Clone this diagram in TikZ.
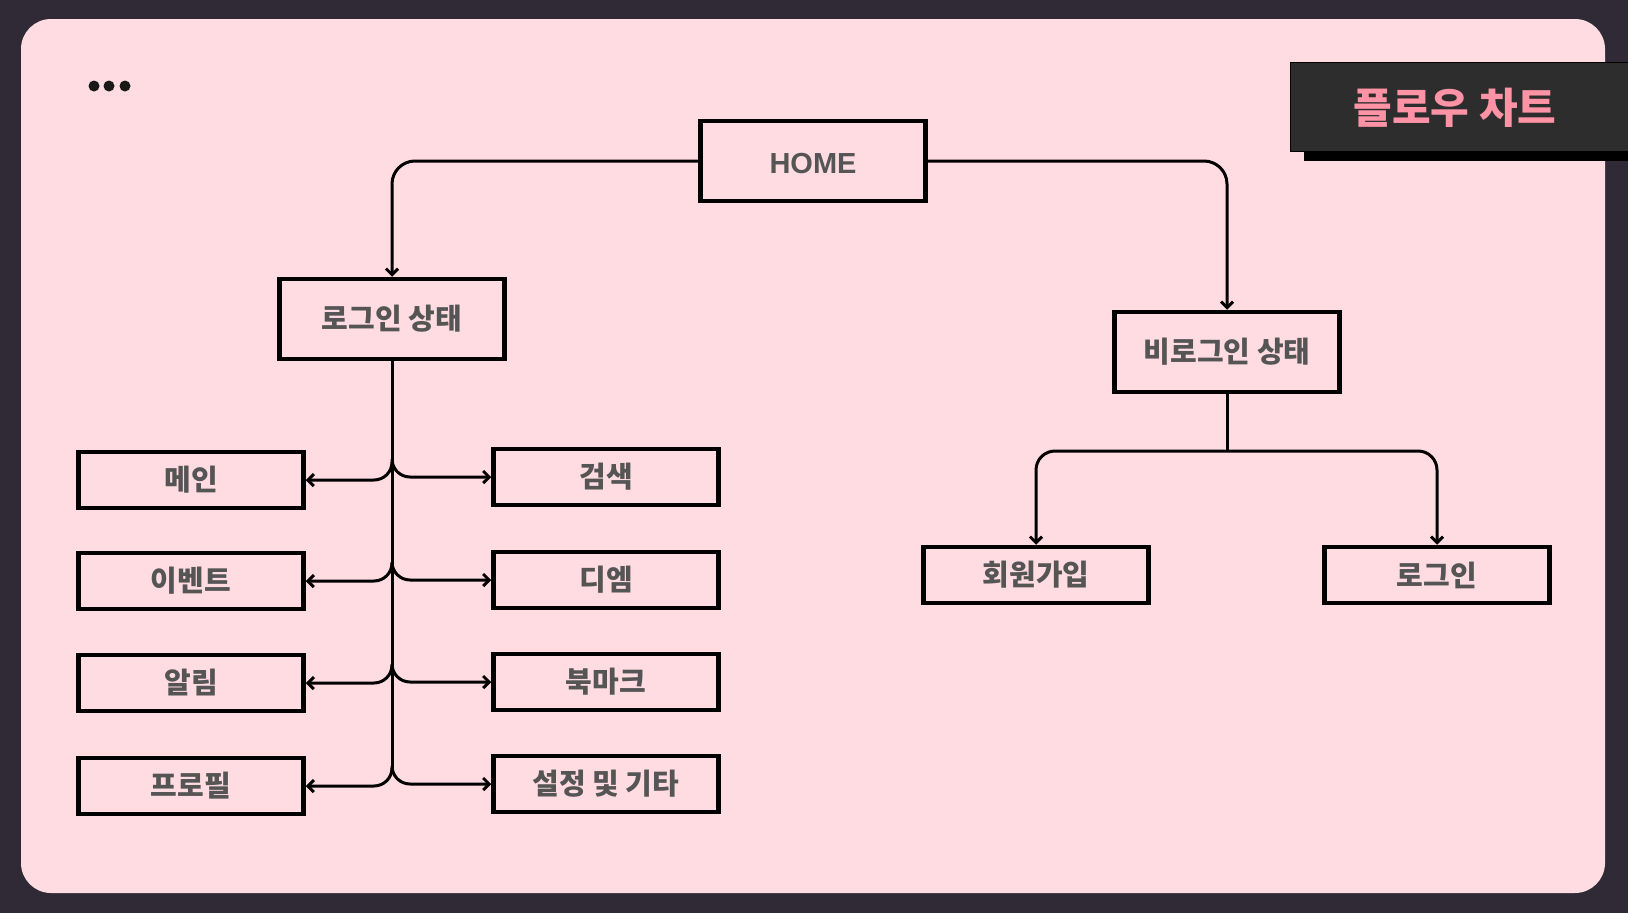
\documentclass[tikz,border=0pt]{standalone}
\usepackage{fontspec}
\setmainfont{Noto Sans CJK KR}
\newfontfamily\latinfont{Liberation Sans}
\usetikzlibrary{arrows.meta,calc}
\definecolor{bgdark}{HTML}{2F2A35}
\definecolor{bgpink}{HTML}{FFDCE2}
\definecolor{titlebg}{HTML}{2D2D2D}
\definecolor{titlefg}{HTML}{FF93A6}
\definecolor{labelfg}{HTML}{555555}

\begin{document}
\begin{tikzpicture}
[   x=1pt,y=-1pt,
    box/.style={draw=black,line width=4.5pt,minimum width=225pt,minimum height=#1,
        text=labelfg,font=\fontsize{29}{32}\selectfont\bfseries},
    box/.default=56pt,
    conn/.style={line width=3pt,>={Straight Barb[length=6pt,width=12pt]}},
]
    \fill[bgdark] (0,0) rectangle (1628,913);
    \useasboundingbox (0,0) rectangle (1628,913);
    \fill[bgpink,rounded corners=30pt] (21,19) rectangle (1605,893);
    \foreach \x in {94,109,125}
        \fill[black!90] (\x,86) circle (5.5pt);

    \fill[black] (1304,72) rectangle (1640,161);
    \node[draw=black,fill=titlebg,minimum width=340pt,minimum height=89pt,anchor=north west,
        inner sep=0pt] (title) at (1290,62) {};
    \node[text=titlefg,font=\fontsize{42}{46}\selectfont\bfseries] at (1455,108) {플로우 차트};

    \node[box=80pt] (home) at (813,161) {\raisebox{-3pt}[\height][\depth]{\latinfont\bfseries HOME}};
    \node[box=80pt] (login) at (392,319) {로그인 상태};
    \node[box=80pt] (guest) at (1227,352) {비로그인 상태};
    \node[box] (join) at (1036,575) {회원가입};
    \node[box] (signin) at (1437,575) {로그인};

    \draw[conn,->,rounded corners=23pt] (home.west) -| (login.north);
    \draw[conn,->,rounded corners=23pt] (home.east) -| (guest.north);

    \coordinate (split) at (1227,451);
    \draw[conn] (guest.south) -- (split);
    \draw[conn,->,rounded corners=19pt] (split) -| (join.north);
    \draw[conn,->,rounded corners=19pt] (split) -| (signin.north);

    \foreach \n/\t/\y in {main/메인/480,event/이벤트/581,alarm/알림/683,profile/프로필/786}
    {   \node[box] (\n) at (191,\y) {\t};
        \draw[conn,->,rounded corners=18pt] ($(login.south |- \n.east)+(0,-18)$) |- (\n.east);
    }
    \foreach \n/\t/\y in {search/검색/477,dm/디엠/580,mark/북마크/682,misc/설정 및 기타/784}
    {   \node[box] (\n) at (606,\y) {\t};
        \draw[conn,->,rounded corners=18pt] ($(login.south |- \n.west)+(0,-18)$) |- (\n.west);
    }
    \draw[conn] (login.south) -- ($(login.south |- profile.east)+(0,-18)$);
\end{tikzpicture}
\end{document}
